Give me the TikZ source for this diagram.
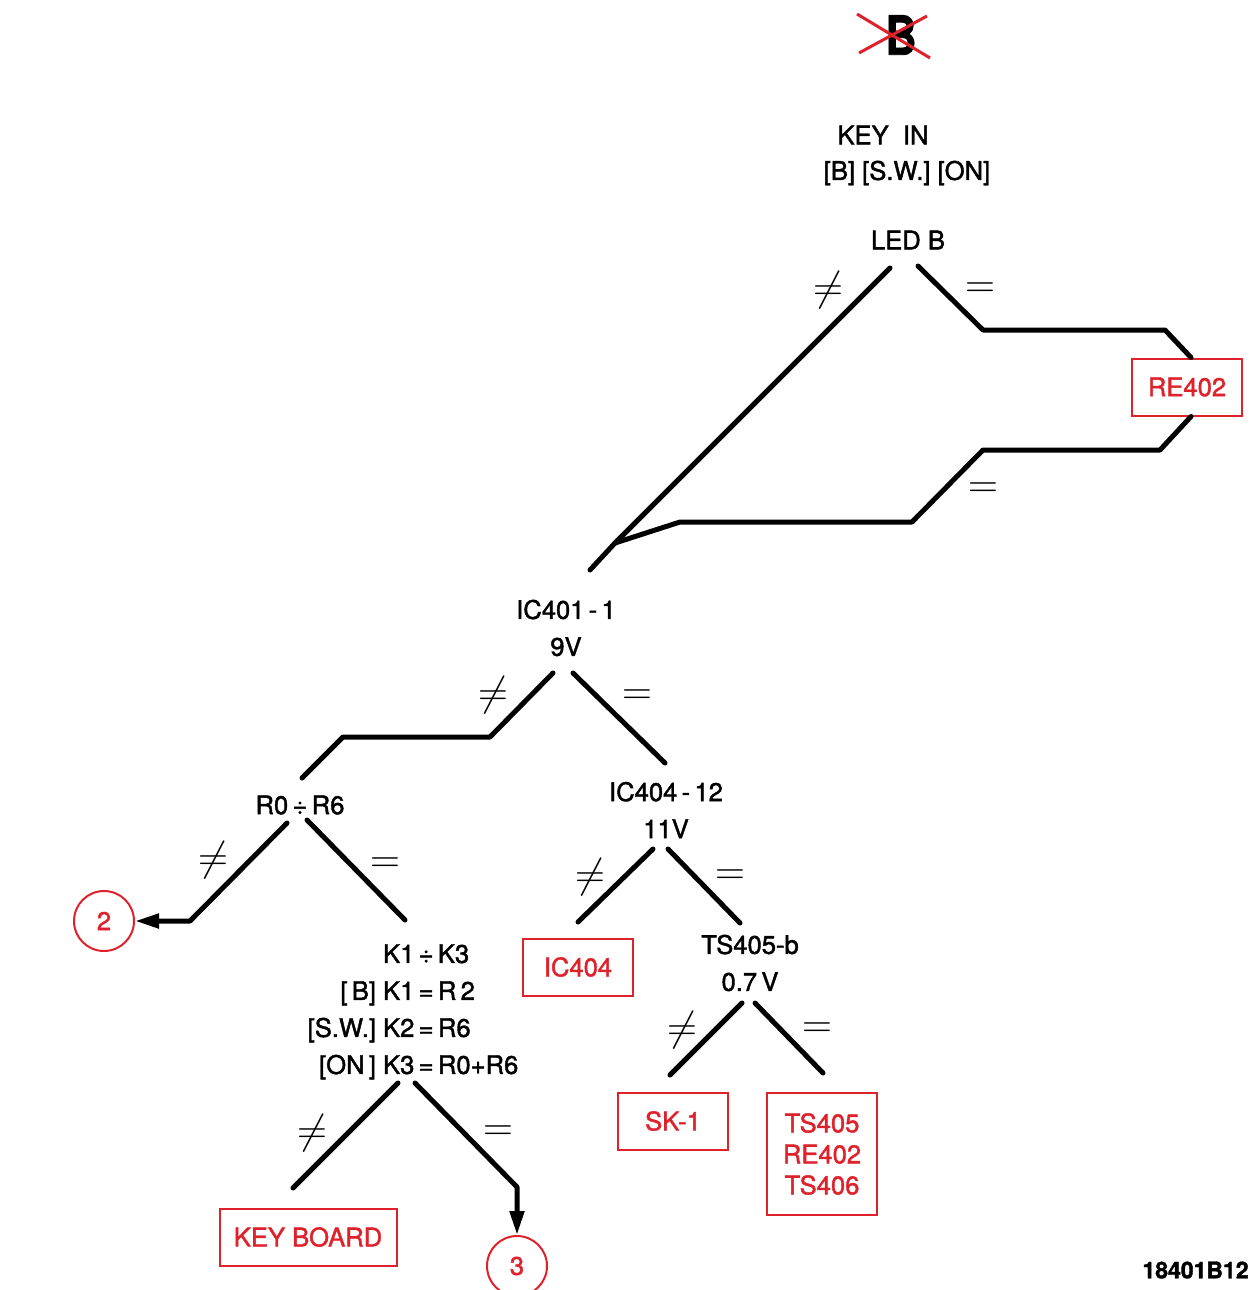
\documentclass[tikz,border=0pt]{standalone}
\usepackage{fontspec}
\setmainfont{TeX Gyre Heros}[FakeBold=1.6]
\usetikzlibrary{arrows.meta,positioning}
\definecolor{fault}{RGB}{222,34,44}
\newcommand{\relfont}{\fontsize{21}{21}\selectfont}

\begin{document}
\begin{tikzpicture}[x=0.5pt, y=-0.5pt,
    lbl/.style={font=\fontsize{12.8}{18.5}\selectfont, inner sep=0pt, align=center},
    part/.style={draw=fault, text=fault, line width=1pt, align=center, minimum width=55pt,
      minimum height=28.5pt, inner sep=2pt, font=\fontsize{12.8}{15.5}\selectfont},
    goto/.style={circle, draw=fault, text=fault, line width=1pt, minimum size=30pt,
      inner sep=0pt, font=\fontsize{12.8}{15}\selectfont},
    rel/.style={font=\relfont, inner sep=0pt},
    branch/.style={line width=2.5pt, line cap=round, line join=round},
    flow/.style={branch, -{Triangle[length=12pt,width=7pt]}}]
  \useasboundingbox (0,0) rectangle (1252,1290);

  % heading
  \node[lbl, font=\bfseries\fontsize{27}{27}\selectfont] (bmark) at (901,35) {\scalebox{0.8}[1]{B}};
  \draw[fault, line width=1.5pt] (857,14) -- (930,58) (859,53) -- (927,16);
  \node[lbl] (keyin) at (883,135) {KEY\ \ IN};
  \node[lbl] (keys) at (907,173) {[B] [S.W.] [ON]};

  % test points
  \node[lbl] (ledb) at (908,240) {LED B};
  \node[lbl] (ic401) at (566,628) {IC401\,-\,1\\9V};
  \node[lbl] (rsel) at (300,805) {R0\,÷\,R6};
  \node[lbl] (kmap) at (413,1011) {\begin{tabular}{@{}r@{\ }l@{}}
      & K1\,÷\,K3\\ {[}\,B] & K1\,=\,R\,2\\ {[}S.W.] & K2\,=\,R6\\ {[}ON\,] & K3\,=\,R0+R6
    \end{tabular}};
  \node[lbl] (ic404) at (666,810) {IC404\,-\,12\\11V};
  \node[lbl] (ts405b) at (750,963) {TS405-b\\0.7\,V};

  % faulty parts
  \node[part] (re402) at (1187,387) {RE402};
  \node[part] (ic404box) at (578,967) {IC404};
  \node[part] (sk1) at (673,1121) {SK-1};
  \node[part, minimum height=61pt] (tsbox) at (822,1154) {TS405\\RE402\\TS406};
  \node[part, minimum width=88.5pt] (keyboard) at (308,1237) {KEY BOARD};
  \node[goto] (two) at (104,921) {2};
  \node[goto] (three) at (517,1266) {3};
  \node[lbl, anchor=east, font=\bfseries\fontsize{11.5}{14}\selectfont] (drawno) at (1249,1270) {18401B12};

  % branch ends
  \coordinate (ledb-ne) at (890,268);
  \coordinate (ledb-eq) at (918,266);
  \coordinate (join) at (615,543);
  \coordinate (ic401-in) at (590,570);
  \coordinate (ic401-ne) at (553,673);
  \coordinate (ic401-eq) at (573,673);
  \coordinate (rsel-in) at (302,778);
  \coordinate (rsel-ne) at (287,823);
  \coordinate (rsel-eq) at (307,820);
  \coordinate (kmap-in) at (405,920);
  \coordinate (kmap-ne) at (398,1083);
  \coordinate (kmap-eq) at (415,1083);
  \coordinate (keyboard-in) at (293,1188);
  \coordinate (ic404-in) at (665,763);
  \coordinate (ic404-ne) at (653,849);
  \coordinate (ic404-eq) at (668,849);
  \coordinate (ic404box-in) at (578,922);
  \coordinate (ts405b-in) at (740,923);
  \coordinate (ts405b-ne) at (742,1003);
  \coordinate (ts405b-eq) at (755,1003);
  \coordinate (sk1-in) at (670,1075);
  \coordinate (tsbox-in) at (823,1073);

  \draw[branch] (ledb-ne) -- (join) -- (ic401-in);
  \draw[branch] (ledb-eq) -- (983,330) -- (1165,330) -- ([xshift=2pt]re402.north);
  \draw[branch] ([xshift=2pt]re402.south) -- (1160,450) -- (983,450) -- (912,522) -- (680,522) -- (join);
  \draw[branch] (ic401-ne) -- (490,737) -- (343,737) -- (rsel-in);
  \draw[branch] (ic401-eq) -- (ic404-in);
  \draw[flow] (rsel-ne) -- (190,921) -- (two);
  \draw[branch] (rsel-eq) -- (kmap-in);
  \draw[branch] (kmap-ne) -- (keyboard-in);
  \draw[flow] (kmap-eq) -- (517,1187) -- (three);
  \draw[branch] (ic404-ne) -- (ic404box-in);
  \draw[branch] (ic404-eq) -- (ts405b-in);
  \draw[branch] (ts405b-ne) -- (sk1-in);
  \draw[branch] (ts405b-eq) -- (tsbox-in);

  % outcomes
  \node[rel] (ne-ledb) at (828,290) {$\neq$};
  \node[rel] (eq-ledb) at (980,290) {$=$};
  \node[rel] (eq-re402) at (983,490) {$=$};
  \node[rel] (ne-ic401) at (493,695) {$\neq$};
  \node[rel] (eq-ic401) at (637,697) {$=$};
  \node[rel] (ne-rsel) at (213,860) {$\neq$};
  \node[rel] (eq-rsel) at (385,865) {$=$};
  \node[rel] (ne-kmap) at (312,1133) {$\neq$};
  \node[rel] (eq-kmap) at (498,1133) {$=$};
  \node[rel] (ne-ic404) at (590,877) {$\neq$};
  \node[rel] (eq-ic404) at (730,877) {$=$};
  \node[rel] (ne-ts405b) at (682,1030) {$\neq$};
  \node[rel] (eq-ts405b) at (817,1030) {$=$};
\end{tikzpicture}
\end{document}
